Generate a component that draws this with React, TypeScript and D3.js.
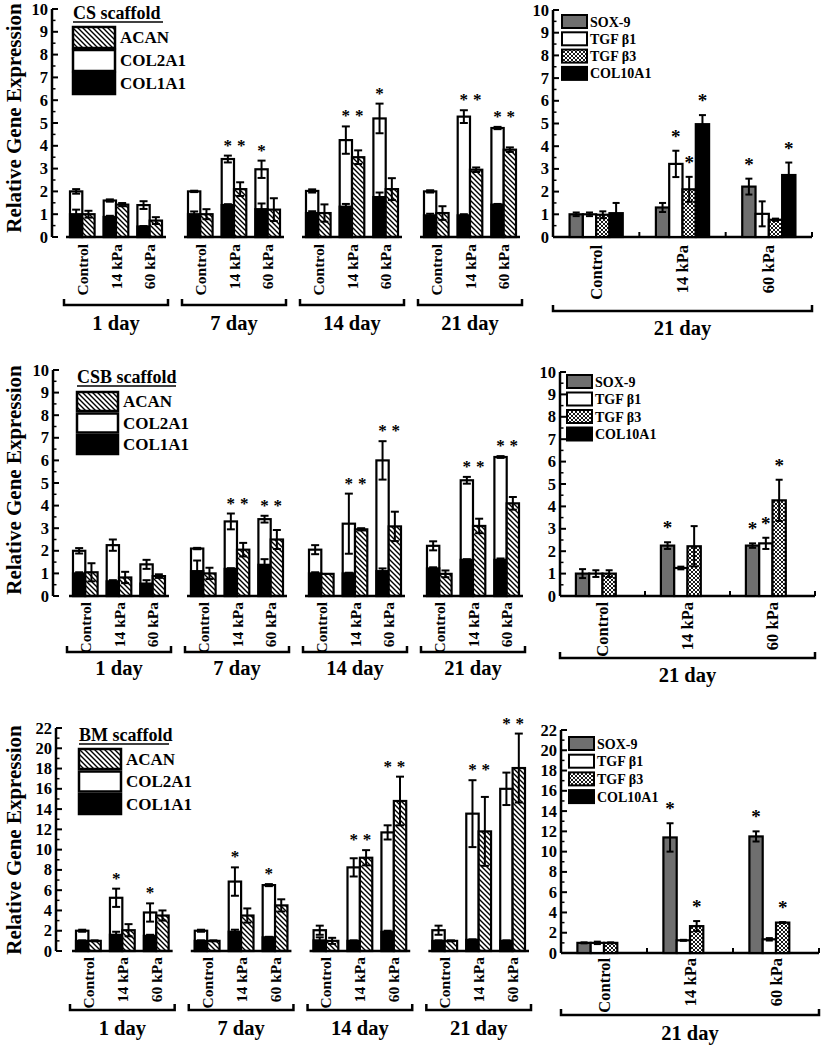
import React from "react";
import * as d3 from "d3";

const FONT = "'Liberation Serif', 'Times New Roman', Times, serif";

const days = ["1 day", "7 day", "14 day", "21 day"];
const conditions = ["Control", "14 kPa", "60 kPa"];
const leftSeries = ["ACAN", "COL2A1", "COL1A1"];
const rightSeries = ["SOX-9", "TGF β1", "TGF β3", "COL10A1"];
const scaffolds = ["CS scaffold", "CSB scaffold", "BM scaffold"];
const rightGroupLabel = "21 day";
const yTitle = "Relative Gene Expression";
const ticks10 = [0, 1, 2, 3, 4, 5, 6, 7, 8, 9, 10];
const ticks22 = [0, 2, 4, 6, 8, 10, 12, 14, 16, 18, 20, 22];

// ---------- CS scaffold ----------
const csCol1 = [[1.0, 0.88, 0.46], [1.0, 1.4, 1.22], [1.05, 1.33, 1.75], [0.95, 0.95, 1.42]];
const csCol1Err = [[0.2, 0.05, 0.02], [0.12, 0.04, 0.25], [0.08, 0.12, 0.2], [0.07, 0.05, 0.03]];
const csCol2 = [[1.0, 0.72, 0.94], [1.0, 2.02, 1.75], [0.97, 2.92, 3.45], [1.05, 4.33, 3.36]];
const csCol2Err = [[0.1, 0.05, 0.17], [0.03, 0.15, 0.38], [0.07, 0.6, 0.65], [0.05, 0.28, 0.05]];
const csAcan = [[1.0, 1.42, 0.72], [1.0, 2.1, 1.2], [1.05, 3.5, 2.1], [1.05, 2.95, 3.83]];
const csAcanErr = [[0.15, 0.07, 0.15], [0.22, 0.3, 0.5], [0.38, 0.3, 0.48], [0.3, 0.1, 0.1]];
const csStars = [[1, 1, 2], [1, 2, 1], [2, 1, 2], [2, 2, 1], [3, 1, 2], [3, 2, 2]];

const csSox = [1.0, 1.3, 2.22];
const csSoxErr = [0.08, 0.2, 0.35];
const csTgf1 = [1.0, 3.22, 1.02];
const csTgf1Err = [0.08, 0.58, 0.55];
const csTgf3 = [0.98, 2.1, 0.76];
const csTgf3Err = [0.15, 0.55, 0.05];
const csCol10 = [1.05, 4.97, 2.73];
const csCol10Err = [0.45, 0.4, 0.55];
const csRightStars = [[1, 1], [1, 2], [1, 3], [2, 0], [2, 3]];

// ---------- CSB scaffold ----------
const csbCol1 = [[1.0, 0.65, 0.55], [1.1, 1.2, 1.38], [1.0, 1.0, 1.1], [1.22, 1.6, 1.6]];
const csbCol1Err = [[0.05, 0.05, 0.15], [0.47, 0.03, 0.25], [0.05, 0.03, 0.12], [0.05, 0.03, 0.06]];
const csbCol2 = [[1.0, 1.6, 0.85], [1.0, 2.1, 2.02], [1.05, 2.2, 4.9], [1.0, 3.52, 4.55]];
const csbCol2Err = [[0.12, 0.25, 0.2], [0.03, 0.35, 0.15], [0.2, 1.33, 0.85], [0.2, 0.15, 0.04]];
const csbAcan = [[1.05, 0.82, 0.88], [1.0, 2.05, 2.5], [0.98, 2.95, 3.08], [0.98, 3.1, 4.1]];
const csbAcanErr = [[0.4, 0.25, 0.08], [0.25, 0.3, 0.42], [0.0, 0.05, 0.65], [0.15, 0.32, 0.28]];
const csbStars = [[1, 1, 2], [1, 2, 2], [2, 1, 2], [2, 2, 2], [3, 1, 2], [3, 2, 2]];

const csbSox = [1.0, 2.25, 2.25];
const csbSoxErr = [0.2, 0.15, 0.1];
const csbTgf1 = [1.0, 1.25, 2.35];
const csbTgf1Err = [0.15, 0.06, 0.25];
const csbTgf3 = [1.0, 2.22, 4.27];
const csbTgf3Err = [0.15, 0.9, 0.92];
const csbRightStars = [[1, 0], [2, 0], [2, 1], [2, 2]];

// ---------- BM scaffold ----------
const bmCol1 = [[1.0, 1.6, 1.5], [1.0, 1.9, 1.35], [1.05, 1.0, 1.9], [1.0, 1.1, 1.0]];
const bmCol1Err = [[0.05, 0.3, 0.1], [0.05, 0.2, 0.05], [0.3, 0.05, 0.1], [0.05, 0.05, 0.05]];
const bmCol2 = [[1.0, 3.65, 2.3], [1.0, 4.95, 5.15], [1.0, 7.25, 9.8], [1.05, 12.45, 15.0]];
const bmCol2Err = [[0.1, 0.9, 0.9], [0.1, 1.4, 0.1], [0.45, 0.9, 0.7], [0.45, 3.3, 1.6]];
const bmAcan = [[1.0, 2.05, 3.5], [1.0, 3.5, 4.5], [1.0, 9.2, 14.8], [1.0, 11.8, 18.05]];
const bmAcanErr = [[0.05, 0.6, 0.5], [0.05, 0.7, 0.6], [0.3, 0.75, 2.4], [0.05, 3.4, 3.4]];
const bmStars = [[0, 1, 1], [0, 2, 1], [1, 1, 1], [1, 2, 1], [2, 1, 2], [2, 2, 2], [3, 1, 2], [3, 2, 2]];

const bmSox = [1.0, 11.4, 11.5];
const bmSoxErr = [0.05, 1.4, 0.5];
const bmTgf1 = [1.0, 1.25, 1.35];
const bmTgf1Err = [0.12, 0.05, 0.12];
const bmTgf3 = [1.0, 2.65, 3.0];
const bmTgf3Err = [0.05, 0.5, 0.05];
const bmRightStars = [[1, 0], [1, 2], [2, 0], [2, 2]];

const panelData = [
  {
    title: scaffolds[0], yMax: 10, ticks: ticks10, minor: 0.5,
    col1: csCol1, col1Err: csCol1Err, col2: csCol2, col2Err: csCol2Err, acan: csAcan, acanErr: csAcanErr, stars: csStars,
    right: [[csSox, csSoxErr], [csTgf1, csTgf1Err], [csTgf3, csTgf3Err], [csCol10, csCol10Err]],
    rightStars: csRightStars,
  },
  {
    title: scaffolds[1], yMax: 10, ticks: ticks10, minor: 0.5,
    col1: csbCol1, col1Err: csbCol1Err, col2: csbCol2, col2Err: csbCol2Err, acan: csbAcan, acanErr: csbAcanErr, stars: csbStars,
    right: [[csbSox, csbSoxErr], [csbTgf1, csbTgf1Err], [csbTgf3, csbTgf3Err]],
    rightStars: csbRightStars,
  },
  {
    title: scaffolds[2], yMax: 22, ticks: ticks22, minor: 1,
    col1: bmCol1, col1Err: bmCol1Err, col2: bmCol2, col2Err: bmCol2Err, acan: bmAcan, acanErr: bmAcanErr, stars: bmStars,
    right: [[bmSox, bmSoxErr], [bmTgf1, bmTgf1Err], [bmTgf3, bmTgf3Err]],
    rightStars: bmRightStars,
  },
];

// layout per row
const layouts = [
  { y0: 237, yTop: 9, axisX: 52, gx0: 66, gStep: 118, labelTop: 244, bracketY: 305, dayY: 330,
    rAxisX: 553, rEnd: 812, rY0: 237, rYTop: 10, rLabelTop: 245, rBracketY: 311, rDayY: 335, titleY: 118,
    legX: 73, legTitleY: 13, legBoxTop: 27, legBoxH: 21, legStep: 23, legBoxW: 42,
    rLegX: 562, rLegTop: 15, rLegStep: 17.3 },
  { y0: 596, yTop: 370, axisX: 53, gx0: 69, gStep: 118, labelTop: 602, bracketY: 652, dayY: 675,
    rAxisX: 560, rEnd: 815, rY0: 596, rYTop: 372, rLabelTop: 602, rBracketY: 658, rDayY: 682, titleY: 480,
    legX: 77, legTitleY: 377, legBoxTop: 392, legBoxH: 19, legStep: 21.5, legBoxW: 41,
    rLegX: 567, rLegTop: 375, rLegStep: 17.5 },
  { y0: 951, yTop: 728, axisX: 56, gx0: 72, gStep: 119, labelTop: 957, bracketY: 1010, dayY: 1035,
    rAxisX: 561, rEnd: 819, rY0: 953, rYTop: 730, rLabelTop: 958, rBracketY: 1015, rDayY: 1040, titleY: 840,
    legX: 79, legTitleY: 735, legBoxTop: 749, legBoxH: 20, legStep: 22.5, legBoxW: 42,
    rLegX: 569, rLegTop: 737, rLegStep: 17.7 },
];

function ErrorBar({ x, y, v, e, cap = 8 }) {
  if (!e) return null;
  const top = y(v + e);
  const bot = y(Math.max(0, v - e));
  return (
    <g stroke="#000" strokeWidth={2}>
      <line x1={x} x2={x} y1={top} y2={bot} />
      <line x1={x - cap / 2} x2={x + cap / 2} y1={top} y2={top} />
      <line x1={x - cap / 2} x2={x + cap / 2} y1={bot} y2={bot} />
    </g>
  );
}

function YAxis({ x, y, ticks, minor, yMax }) {
  const minorTicks = d3.range(0, yMax + 1e-9, minor).filter((t) => !ticks.includes(t));
  return (
    <g>
      <line x1={x} x2={x} y1={y(0)} y2={y(yMax)} stroke="#000" strokeWidth={2.5} />
      {ticks.map((t) => (
        <g key={t}>
          <line x1={x} x2={x + 6} y1={y(t)} y2={y(t)} stroke="#000" strokeWidth={2} />
          <text x={x - 4} y={y(t)} textAnchor="end" dominantBaseline="central" fontSize={16.5} fontWeight="bold">{t}</text>
        </g>
      ))}
      {minorTicks.map((t) => (
        <line key={"m" + t} x1={x} x2={x + 3.5} y1={y(t)} y2={y(t)} stroke="#000" strokeWidth={1.5} />
      ))}
    </g>
  );
}

function LeftPanel({ d, L }) {
  const y = d3.scaleLinear().domain([0, d.yMax]).range([L.y0, L.yTop]);
  const W = L.gStep * 3 + 100;
  const gx = d3.scaleBand().domain(days).range([L.gx0, L.gx0 + W]).paddingInner(18 / 118);
  const cx = d3.scaleBand().domain(conditions).range([4, gx.bandwidth() - 4]).paddingInner(0.27);
  const bx = d3.scaleBand().domain(["stack", "acan"]).range([0, cx.bandwidth()]);
  const bw = bx.bandwidth();
  return (
    <g>
      <YAxis x={L.axisX} y={y} ticks={d.ticks} minor={d.minor} yMax={d.yMax} />
      {days.map((day, di) => {
        const g0 = gx(day);
        const gw = gx.bandwidth();
        return (
          <g key={day}>
            {conditions.map((c, ci) => {
              const x0 = g0 + cx(c);
              const c1 = d.col1[di][ci];
              const tot = c1 + d.col2[di][ci];
              const ac = d.acan[di][ci];
              const xs = x0 + bx("stack");
              const xa = x0 + bx("acan");
              return (
                <g key={c}>
                  <rect x={xs} y={y(tot)} width={bw} height={y(0) - y(tot)} fill="#fff" stroke="#000" strokeWidth={2.2} />
                  <rect x={xs} y={y(c1)} width={bw} height={y(0) - y(c1)} fill="#000" stroke="#000" strokeWidth={2.2} />
                  <rect x={xa} y={y(ac)} width={bw} height={y(0) - y(ac)} fill="url(#hatch)" stroke="#000" strokeWidth={2.2} />
                  <ErrorBar x={xs + bw / 2} y={y} v={c1} e={d.col1Err[di][ci]} />
                  <ErrorBar x={xs + bw / 2} y={y} v={tot} e={d.col2Err[di][ci]} />
                  <ErrorBar x={xa + bw / 2} y={y} v={ac} e={d.acanErr[di][ci]} />
                  <text transform={`translate(${x0 + bw},${L.labelTop}) rotate(-90)`} textAnchor="end"
                    dominantBaseline="central" fontSize={15.5} fontWeight="bold">{c}</text>
                </g>
              );
            })}
            <line x1={g0} x2={g0 + gw} y1={L.y0} y2={L.y0} stroke="#000" strokeWidth={2.5} />
            <path d={`M${g0 - 2},${L.bracketY - 6}V${L.bracketY}H${g0 + gw + 2}V${L.bracketY - 6}`} fill="none" stroke="#000" strokeWidth={2.5} />
            <text x={g0 + gw / 2} y={L.dayY} textAnchor="middle" fontSize={20.5} fontWeight="bold">{day}</text>
          </g>
        );
      })}
      {d.stars.map(([di, ci, n], i) => {
        const x0 = gx(days[di]) + cx(conditions[ci]);
        const c1 = d.col1[di][ci];
        const tot = c1 + d.col2[di][ci];
        const topW = tot + d.col2Err[di][ci];
        const topA = d.acan[di][ci] + d.acanErr[di][ci];
        const top = n === 2 ? Math.max(topW, topA) : topW;
        const ys = y(top) - 5;
        return (
          <g key={i} fontSize={17} fontWeight="bold" textAnchor="middle">
            <text x={x0 + bx("stack") + bw / 2} y={ys}>*</text>
            {n === 2 && <text x={x0 + bx("acan") + bw / 2 + 1} y={ys}>*</text>}
          </g>
        );
      })}
      {/* legend */}
      <text x={L.legX} y={L.legTitleY} dominantBaseline="central" fontSize={18} fontWeight="bold">{d.title}</text>
      <line x1={L.legX} x2={L.legX + 90 + (d.title.length - 11) * 9} y1={L.legTitleY + 9} y2={L.legTitleY + 9} stroke="#000" strokeWidth={1.5} />
      {leftSeries.map((s, i) => {
        const yb = L.legBoxTop + i * L.legStep;
        const fill = s === "ACAN" ? "url(#hatch)" : s === "COL2A1" ? "#fff" : "#000";
        return (
          <g key={s}>
            <rect x={L.legX} y={yb} width={L.legBoxW} height={L.legBoxH} fill={fill} stroke="#000" strokeWidth={2.5} />
            <text x={L.legX + L.legBoxW + 5} y={yb + L.legBoxH / 2} dominantBaseline="central" fontSize={17} fontWeight="bold">{s}</text>
          </g>
        );
      })}
      <text transform={`translate(14,${L.titleY}) rotate(-90)`} textAnchor="middle" dominantBaseline="central" fontSize={21} fontWeight="bold">{yTitle}</text>
    </g>
  );
}

const rightFills = ["#6f6f6f", "#fff", "url(#cross)", "#000"];

function RightPanel({ d, L }) {
  const y = d3.scaleLinear().domain([0, d.yMax]).range([L.rY0, L.rYTop]);
  const x = d3.scaleBand().domain(conditions).range([L.rAxisX, L.rEnd]);
  const sx = d3.scaleBand().domain(rightSeries).range([-26.6, 26.6]);
  const bw = sx.bandwidth();
  return (
    <g>
      <YAxis x={L.rAxisX} y={y} ticks={d.ticks} minor={d.minor} yMax={d.yMax} />
      <line x1={L.rAxisX} x2={L.rEnd} y1={L.rY0} y2={L.rY0} stroke="#000" strokeWidth={2.5} />
      {conditions.map((c) => (
        <line key={c} x1={x(c) + x.bandwidth()} x2={x(c) + x.bandwidth()} y1={L.rY0} y2={L.rY0 - 5} stroke="#000" strokeWidth={2} />
      ))}
      {conditions.map((c, ci) => {
        const cc = x(c) + x.bandwidth() / 2;
        return (
          <g key={c}>
            {d.right.map(([vals, errs], si) => {
              const v = vals[ci];
              const bx = cc + sx(rightSeries[si]);
              return (
                <g key={si}>
                  <rect x={bx} y={y(v)} width={bw} height={y(0) - y(v)} fill={rightFills[si]} stroke="#000" strokeWidth={2.2} />
                  <ErrorBar x={bx + bw / 2} y={y} v={v} e={errs[ci]} cap={7} />
                </g>
              );
            })}
            <text transform={`translate(${cc},${L.rLabelTop}) rotate(-90)`} textAnchor="end"
              dominantBaseline="central" fontSize={16.5} fontWeight="bold">{c}</text>
          </g>
        );
      })}
      {d.rightStars.map(([ci, si], i) => {
        const [vals, errs] = d.right[si];
        const cc = x(conditions[ci]) + x.bandwidth() / 2 + sx(rightSeries[si]) + bw / 2;
        return (
          <text key={i} x={cc} y={y(vals[ci] + errs[ci]) - 8} textAnchor="middle" fontSize={19} fontWeight="bold">*</text>
        );
      })}
      <path d={`M${L.rAxisX},${L.rBracketY - 6}V${L.rBracketY}H${L.rEnd}V${L.rBracketY - 6}`} fill="none" stroke="#000" strokeWidth={2.5} />
      <text x={(L.rAxisX + L.rEnd) / 2} y={L.rDayY} textAnchor="middle" fontSize={20.5} fontWeight="bold">{rightGroupLabel}</text>
      {rightSeries.map((s, i) => {
        const yb = L.rLegTop + i * L.rLegStep;
        return (
          <g key={s}>
            <rect x={L.rLegX} y={yb} width={25} height={13} fill={rightFills[i]} stroke="#000" strokeWidth={2} />
            <text x={L.rLegX + 28} y={yb + 7} dominantBaseline="central" fontSize={14} fontWeight="bold">{s}</text>
          </g>
        );
      })}
    </g>
  );
}

export default function App() {
  return (
    <svg width={821} height={1050} style={{ position: "absolute", left: 0, top: 0, background: "#fff" }}
      fontFamily={FONT}>
      <defs>
        <pattern id="hatch" patternUnits="userSpaceOnUse" width={5} height={5}>
          <rect width={5} height={5} fill="#fff" />
          <path d="M-1,-1L6,6M-1,4L1,6M4,-1L6,1" stroke="#000" strokeWidth={1.4} />
        </pattern>
        <pattern id="cross" patternUnits="userSpaceOnUse" width={4} height={4}>
          <rect width={4} height={4} fill="#fff" />
          <path d="M-1,-1L5,5M-1,3L1,5M3,-1L5,1M-1,5L5,-1M-1,1L1,-1M3,5L5,3" stroke="#000" strokeWidth={0.9} />
        </pattern>
      </defs>
      <rect width={821} height={1050} fill="#fff" />
      {panelData.map((d, i) => (
        <g key={i}>
          <LeftPanel d={d} L={layouts[i]} />
          <RightPanel d={d} L={layouts[i]} />
        </g>
      ))}
    </svg>
  );
}
